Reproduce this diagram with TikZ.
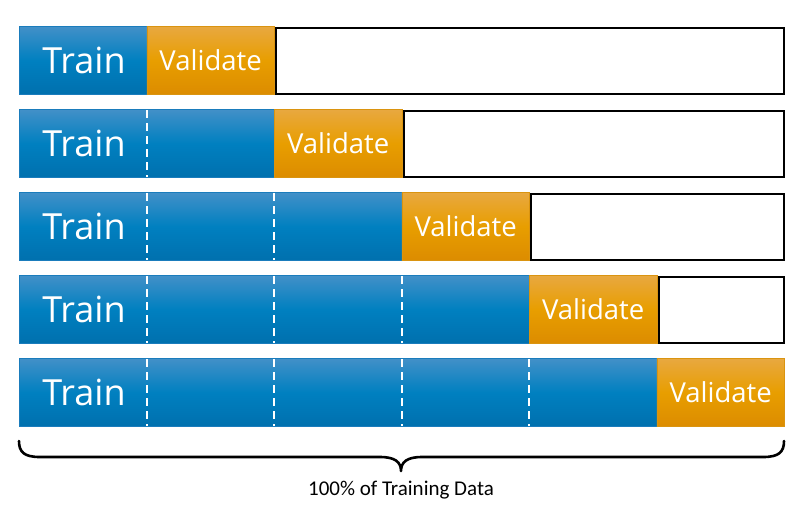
\documentclass[tikz,border=0pt]{standalone}
\usepackage{fontspec}
\setmainfont{Open Sans}
\newfontfamily\carl{Carlito}
\definecolor{btop}{HTML}{4290C8}
\definecolor{bbot}{HTML}{0070AE}
\definecolor{bmid}{HTML}{0080C0}
\definecolor{otop}{HTML}{E8A840}
\definecolor{obot}{HTML}{DC8C00}
\definecolor{omid}{HTML}{E89E00}
\definecolor{bedge}{HTML}{1A7CBC}
\definecolor{oedge}{HTML}{DA9410}
\tikzset{
  trainbox/.style={rectangle, anchor=north west, inner sep=0pt, minimum height=68pt, draw=bedge, line width=0.8pt, top color=btop, bottom color=bbot, middle color=bmid},
  valbox/.style={rectangle, anchor=north west, inner sep=0pt, minimum height=68pt, minimum width=127.5pt, draw=oedge, line width=0.8pt, top color=otop, bottom color=obot, middle color=omid, text=white, font=\fontsize{27.5}{32}\selectfont},
  emptybox/.style={rectangle, anchor=north west, inner sep=0pt, minimum height=66pt, draw=black, line width=2.2pt, fill=white},
  trainlbl/.style={text=white, font=\fontsize{36}{40}\selectfont, inner sep=0pt},
  sepline/.style={draw=white, line width=2pt, dash pattern=on 8pt off 5pt},
  brace/.style={draw=black, line width=2.6pt, line cap=round, line join=round}
}
\begin{document}
\begin{tikzpicture}[x=1pt,y=-1pt]
\useasboundingbox (0,0) rectangle (803,512);
\foreach \i in {1,...,5}{
  \pgfmathsetmacro{\ytop}{26+83*(\i-1)}
  \pgfmathsetmacro{\ymid}{\ytop+34}
  \pgfmathsetmacro{\tw}{127.5*\i}
  \pgfmathsetmacro{\vx}{19+127.5*\i}
  \node[trainbox, minimum width=\tw pt] (t\i) at (19,\ytop) {};
  \node[trainlbl] (l\i) at (84,\ymid) {Train};
  \node[valbox] (v\i) at (\vx,\ytop) {Validate};
  \ifnum\i<5
    \pgfmathsetmacro{\ex}{\vx+127.5+1.1}
    \pgfmathsetmacro{\ew}{784-\ex-1.1}
    \pgfmathsetmacro{\ey}{\ytop+1.1}
    \node[emptybox, minimum width=\ew pt, minimum height=65.8pt] (e\i) at (\ex,\ey) {};
  \fi
  \ifnum\i>1
    \pgfmathtruncatemacro{\last}{\i-1}
    \foreach \k in {1,...,\last}{
      \pgfmathsetmacro{\sx}{19+127.5*\k}
      \draw[sepline] (\sx,\ytop+1) -- (\sx,\ytop+68);
    }
  \fi
}
\coordinate (bl) at (19,441);
\coordinate (br) at (784,441);
\coordinate (btip) at (401,471);
\draw[brace] (bl) .. controls (19,452) and (24,457) .. (40,457) -- (380,457)
  .. controls (395,457) and (401,462) .. (btip)
  .. controls (401,462) and (407,457) .. (422,457) -- (763,457)
  .. controls (779,457) and (784,452) .. (br);
\node[font=\carl\fontsize{21}{24}\selectfont, inner sep=0pt] (cap) at (401,490) {100\% of Training Data};
\end{tikzpicture}
\end{document}
